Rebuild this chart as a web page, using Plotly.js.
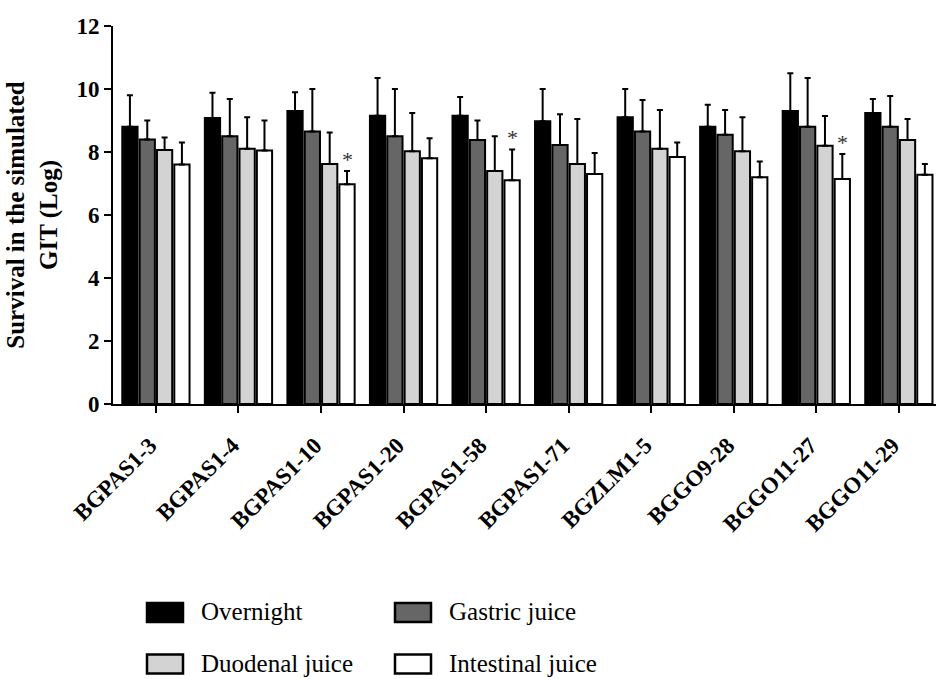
<!DOCTYPE html>
<html><head><meta charset="utf-8">
<script src="https://cdn.plot.ly/plotly-3.0.1.min.js"></script>
<style>html,body{margin:0;padding:0;background:#fff}</style>
</head><body><div id="chart" style="width:938px;height:679px"></div>
<script>
const strains = ["BGPAS1-3","BGPAS1-4","BGPAS1-10","BGPAS1-20","BGPAS1-58","BGPAS1-71","BGZLM1-5","BGGO9-28","BGGO11-27","BGGO11-29"];
const overnight    = [8.80, 9.08, 9.30, 9.15, 9.15, 8.98, 9.10, 8.80, 9.30, 9.24];
const overnightErr = [1.00, 0.80, 0.60, 1.20, 0.60, 1.02, 0.90, 0.70, 1.20, 0.44];
const gastric      = [8.40, 8.50, 8.65, 8.50, 8.38, 8.22, 8.65, 8.55, 8.80, 8.80];
const gastricErr   = [0.60, 1.18, 1.35, 1.50, 0.62, 0.98, 1.00, 0.78, 1.55, 0.98];
const duodenal     = [8.06, 8.10, 7.62, 8.02, 7.40, 7.62, 8.10, 8.02, 8.20, 8.38];
const duodenalErr  = [0.40, 1.00, 1.00, 1.22, 1.10, 1.43, 1.23, 1.08, 0.94, 0.67];
const intestinal   = [7.60, 8.05, 6.98, 7.80, 7.10, 7.30, 7.84, 7.20, 7.14, 7.28];
const intestinalErr= [0.70, 0.95, 0.42, 0.64, 0.98, 0.67, 0.46, 0.50, 0.80, 0.34];
const significant  = [2, 4, 8];
const yTicks = [0, 2, 4, 6, 8, 10, 12];
const seriesNames  = ["Overnight", "Gastric juice", "Duodenal juice", "Intestinal juice"];
const seriesColors = ["#000000", "#666666", "#d3d3d3", "#ffffff"];

const serif = "Liberation Serif, Times New Roman, serif";
const W = 938, H = 679;
const M = {l: 113, r: 2, t: 26, b: 275};
const px2x = px => (px - M.l) / (W - M.l - M.r);
const px2y = py => (H - M.b - py) / (H - M.t - M.b);

const zeros = strains.map(() => 0);
const values = [overnight, gastric, duodenal, intestinal];
const errors = [overnightErr, gastricErr, duodenalErr, intestinalErr];
const data = seriesNames.map((name, k) => ({
  type: "bar", name: name, x: strains, y: values[k], showlegend: false,
  marker: {color: seriesColors[k], line: {color: "#000", width: 2}},
  error_y: {type: "data", symmetric: false, array: errors[k], arrayminus: zeros,
            color: "#000", thickness: 2, width: 3}
}));

const groupW = 1 - 0.16;
const annotations = significant.map(i => ({
  x: i + 1.5 * groupW / 4, y: intestinal[i] + intestinalErr[i], xref: "x", yref: "y",
  text: "*", showarrow: false, yanchor: "bottom", yshift: -3,
  font: {family: serif, size: 22, color: "#333"}
}));

// legend (2 x 2) drawn as shapes + text
const legCols = [147, 395], legRows = [612.5, 664];
const shapes = [];
seriesNames.forEach((name, k) => {
  const cx = legCols[k % 2], cy = legRows[Math.floor(k / 2)];
  shapes.push({type: "rect", xref: "paper", yref: "paper",
    x0: px2x(cx), x1: px2x(cx + 36), y0: px2y(cy - 9.5), y1: px2y(cy + 9.5),
    fillcolor: seriesColors[k], line: {color: "#000", width: 2.5}});
  annotations.push({xref: "paper", yref: "paper", x: px2x(cx + 52), y: px2y(cy - 1),
    xanchor: "left", yanchor: "middle", showarrow: false, text: name,
    font: {family: serif, size: 25, color: "#000"}});
});

const layout = {
  width: W, height: H, margin: M,
  paper_bgcolor: "#fff", plot_bgcolor: "#fff",
  barmode: "group", bargap: 0.16, bargroupgap: 0.12,
  showlegend: false,
  xaxis: {
    type: "category", range: [-0.52, 9.45],
    showline: true, linecolor: "#000", linewidth: 2,
    ticks: "outside", ticklen: 7, tickwidth: 2, tickcolor: "#000",
    tickangle: -45, showgrid: false, zeroline: false,
    ticklabelstandoff: 10, ticklabelshift: -6,
    tickfont: {family: serif, size: 23, color: "#000", weight: "bold"}
  },
  yaxis: {
    range: [0, 12], tickvals: yTicks,
    showline: true, linecolor: "#000", linewidth: 2,
    ticks: "outside", ticklen: 7, tickwidth: 2, tickcolor: "#000",
    showgrid: false, zeroline: false,
    tickfont: {family: serif, size: 23, color: "#000", weight: "bold"},
    title: {text: "Survival in the simulated<br>GIT (Log)", standoff: 12,
            font: {family: serif, size: 25, color: "#000", weight: "bold"}}
  },
  shapes: shapes,
  annotations: annotations
};
Plotly.newPlot("chart", data, layout, {displayModeBar: false, staticPlot: true});
</script></body></html>
